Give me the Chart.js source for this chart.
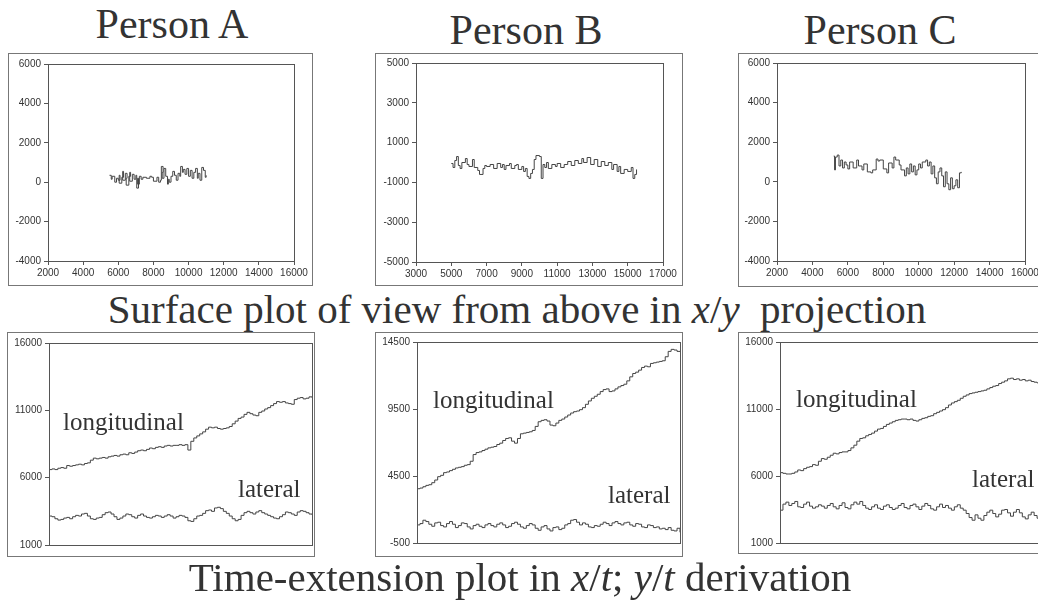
<!DOCTYPE html>
<html>
<head>
<meta charset="utf-8">
<script src="https://cdn.jsdelivr.net/npm/chart.js@4"></script>
<style>
body { margin: 0; width: 1038px; height: 600px; overflow: hidden; background: #fff; position: relative; font-family: "Liberation Serif", serif; color: #333; }
.title { position: absolute; font-size: 42px; line-height: 1; white-space: nowrap; transform: translateX(-50%); }
.caption { position: absolute; font-size: 41px; line-height: 1; white-space: nowrap; transform: translateX(-50%); }
.box { position: absolute; border: 1px solid #777; box-sizing: border-box; background: #fff; }
.box div { position: absolute; left: 0; top: 0; right: 0; bottom: 0; }
.lbl { position: absolute; font-size: 25px; line-height: 1; white-space: nowrap; color: #333; }
</style>
</head>
<body>
<div class="title" style="left:172px; top:3px">Person A</div>
<div class="title" style="left:526px; top:9px">Person B</div>
<div class="title" style="left:880px; top:9px">Person C</div>

<div class="box" style="left:8px; top:53px; width:305px; height:233px"><div><canvas id="xyA"></canvas></div></div>
<div class="box" style="left:375px; top:53px; width:308px; height:233px"><div><canvas id="xyB"></canvas></div></div>
<div class="box" style="left:738px; top:53px; width:310px; height:234px"><div><canvas id="xyC"></canvas></div></div>

<div class="caption" style="left:517px; top:289px">Surface plot of view from above in <i>x</i>/<i>y</i>&nbsp; projection</div>

<div class="box" style="left:7px; top:332px; width:308px; height:225px"><div><canvas id="tA"></canvas></div></div>
<div class="box" style="left:375px; top:332px; width:308px; height:225px"><div><canvas id="tB"></canvas></div></div>
<div class="box" style="left:738px; top:332px; width:310px; height:222px"><div><canvas id="tC"></canvas></div></div>

<div class="lbl" style="left:63px; top:409px">longitudinal</div>
<div class="lbl" style="left:238px; top:476px">lateral</div>
<div class="lbl" style="left:433px; top:387px">longitudinal</div>
<div class="lbl" style="left:608px; top:482px">lateral</div>
<div class="lbl" style="left:796px; top:386px">longitudinal</div>
<div class="lbl" style="left:972px; top:466px">lateral</div>

<div class="caption" style="left:520px; top:557px">Time-extension plot in <i>x</i>/<i>t</i>; <i>y</i>/<i>t</i> derivation</div>

<script>
// x/y paths seen from above
const pathAX = [5500,5600,5650,5800,5900,6000,6100,6050,6200,6300,6250,6400,6500,6450,6600,6700,6650,6800,6900,7000,7050,7150,7100,7200,7300,7400,7600,7800,7900,8000,8200,8300,8400,8450,8550,8500,8600,8700,8800,8850,8900,9000,9100,9200,9300,9400,9500,9550,9650,9700,9800,9900,10000,10100,10200,10300,10400,10500,10550,10650,10750,10850,10950,11000];
const pathAY = [350,150,300,0,200,100,350,-50,250,550,100,450,200,-150,300,500,50,400,150,350,-300,200,-100,300,150,250,200,300,250,50,250,0,100,800,500,200,700,300,-100,150,0,300,550,350,100,450,300,800,500,650,400,700,300,600,200,500,700,200,450,100,750,600,250,350];

const pathBX = [5000,5100,5200,5300,5400,5500,5600,5800,5900,6000,6200,6300,6500,6600,6800,6900,7000,7200,7400,7600,7800,7900,8000,8100,8300,8400,8600,8700,8800,9000,9100,9200,9300,9400,9500,9600,9700,9800,10000,10100,10200,10300,10400,10500,10700,10900,11000,11200,11400,11600,11800,12000,12200,12400,12500,12700,12900,13100,13300,13500,13700,13900,14100,14200,14400,14500,14600,14800,15000,15200,15300,15400,15500];
const pathBY = [-50,-250,100,300,-150,-300,0,200,-100,-200,150,-250,-400,-600,-300,-150,-200,-100,-300,-50,-250,-100,-350,-150,-50,-300,-150,-100,-350,-200,-450,-300,-700,-800,-550,-350,150,350,300,-800,-100,-250,0,-300,-100,-200,-50,-250,-100,50,-150,100,-50,200,0,250,-100,150,-200,50,-150,0,-350,-100,-450,-200,-550,-350,-450,-250,-800,-600,-350];

const pathCX = [5200,5250,5300,5400,5500,5600,5700,5800,5900,6000,6100,6300,6500,6600,6800,6900,7100,7300,7400,7600,7700,7800,8000,8200,8300,8500,8600,8700,8900,9000,9200,9300,9400,9500,9600,9700,9800,9900,10000,10100,10200,10400,10500,10600,10700,10800,10900,11000,11100,11200,11300,11400,11500,11600,11700,11800,11900,12000,12100,12200,12300,12400];
const pathCY = [1300,600,1250,1350,800,1100,700,1000,850,650,1000,700,1100,800,600,900,500,450,600,1150,1050,1100,650,450,950,700,1250,1100,850,600,300,700,400,900,500,800,350,600,900,700,1000,1100,800,1000,400,800,200,-100,500,700,300,-250,500,-100,-400,200,-350,-200,100,-300,450,500];

// time series, longitudinal and lateral
const longA = [6600,6650,6600,6700,6750,6700,6900,6850,6900,6950,7000,6950,7050,7100,7300,7450,7400,7450,7500,7450,7550,7600,7650,7600,7700,7750,7700,7850,7800,7900,8000,8050,8000,8100,8200,8150,8250,8300,8250,8350,8400,8350,8400,8400,8450,8400,8450,8050,8700,8950,9100,9250,9400,9600,9750,9700,9750,9650,9600,9650,9700,9800,10000,10200,10400,10500,10700,10850,10750,10650,10600,10850,10950,11100,11200,11350,11500,11650,11600,11650,11550,11500,11450,11800,11900,11950,11850,11900,12000,11950];
const latA = [3150,3100,2950,2850,2900,3000,3050,2950,3100,3200,3150,3300,3350,3150,2950,2900,3000,3050,3250,3400,3450,3300,3100,2900,3000,3150,3300,3250,3100,3000,3200,3300,3150,3050,3000,3100,3200,3150,3050,3150,3250,3150,3000,3100,3200,3150,3050,2800,2750,2950,3150,3200,3350,3550,3600,3500,3750,3800,3700,3500,3350,3150,2950,2800,2900,3200,3400,3500,3400,3300,3450,3550,3400,3300,3200,3100,3000,2950,3100,3250,3450,3400,3300,3200,3450,3550,3500,3400,3300,3250];

const longB = [3550,3600,3700,3800,3850,4000,4200,4450,4550,4750,4800,4900,5000,5100,5150,5200,5300,5350,5600,6100,6250,6300,6400,6500,6600,6650,6700,6850,6950,7150,7300,7350,7100,6950,7300,7650,7700,7750,7800,7900,8200,8550,8650,8700,8600,8300,8250,8450,8650,8750,8900,9050,9200,9300,9350,9450,9600,9850,10100,10300,10450,10600,10800,10950,11000,10800,10850,11000,11150,11250,11350,11600,11900,12150,12250,12400,12600,12700,12650,12900,12950,13000,13050,13100,13400,13800,13950,13900,13800,13750];
const latB = [850,950,1200,1100,900,750,1000,1050,800,700,950,1100,900,650,800,1000,950,700,550,800,900,750,650,850,950,800,700,900,1000,850,650,750,950,1050,900,700,600,800,950,850,600,450,700,800,550,400,650,700,500,600,850,950,1200,1250,1050,850,1000,900,700,650,800,750,900,1050,950,800,1000,1100,950,850,1000,1050,850,750,950,900,700,650,850,800,650,700,550,600,500,650,450,400,600,300];

const longC = [6250,6200,6150,6150,6200,6300,6450,6400,6550,6650,6700,6850,6800,7100,7300,7250,7400,7550,7700,7650,7750,7800,7800,7900,8100,8300,8600,8800,8850,9000,9100,9200,9350,9500,9550,9700,9850,9950,10050,10150,10200,10250,10250,10200,10250,10150,10100,10200,10300,10350,10450,10500,10650,10750,10850,10950,11100,11300,11450,11550,11650,11800,11950,12050,12150,12200,12250,12300,12350,12400,12500,12600,12700,12750,12900,13000,13100,13250,13300,13200,13250,13150,13200,13100,13150,13050,13000,12950,13000,12950];
const latC = [3450,3900,4050,3800,3950,4100,3700,3650,3900,4050,3750,3600,3700,3850,3750,3600,3800,3950,3700,3550,3800,4000,3650,3550,3850,4050,3900,4100,3800,3600,3500,3700,3850,3600,3500,3750,3850,3650,3500,3600,3800,3950,3650,3550,3800,3900,3700,3500,3750,3950,3800,3550,3450,3700,3900,3650,3800,3600,3450,3700,3850,3600,3450,3200,2900,2700,3100,2850,2700,3050,3300,3450,3200,2950,3150,3450,3500,3250,3000,3300,3500,3250,2950,2800,3100,3300,3050,2850,2900,3100];

const plotBox = {
    id: 'plotBox',
    afterDraw(chart) {
        const ctx = chart.ctx, a = chart.chartArea;
        ctx.save();
        ctx.strokeStyle = '#555';
        ctx.lineWidth = 1;
        ctx.strokeRect(Math.round(a.left) + 0.5, Math.round(a.top) + 0.5, Math.round(a.right - a.left), Math.round(a.bottom - a.top));
        ctx.restore();
    }
};

const tickFont = {family: '"Liberation Sans", Arial, sans-serif', size: 10};

function yAxis(min, max, step, w) {
    return {
        min: min, max: max,
        ticks: {stepSize: step, color: '#333', font: tickFont, padding: 3, callback: v => String(v)},
        grid: {drawOnChartArea: false, tickLength: 4, color: '#555'},
        border: {color: '#555'},
        afterFit(s) { s.width = w; }
    };
}

function xyChart(id, xs, ys, xMin, xMax, yMin, yMax, pad) {
    new Chart(document.getElementById(id), {
        type: 'scatter',
        data: {datasets: [{
            data: xs.map((x, i) => ({x: x, y: ys[i]})),
            showLine: true, stepped: true, borderColor: '#444', borderWidth: 1, pointRadius: 0
        }]},
        options: {
            animation: false, responsive: true, maintainAspectRatio: false,
            layout: {padding: {left: 0, right: pad.r, top: pad.t, bottom: 0}},
            plugins: {legend: {display: false}, tooltip: {enabled: false}},
            scales: {
                x: {
                    type: 'linear', min: xMin, max: xMax,
                    ticks: {stepSize: 2000, color: '#333', font: tickFont, padding: 2, maxRotation: 0, autoSkip: false, callback: v => String(v)},
                    grid: {drawOnChartArea: false, tickLength: 4, color: '#555'},
                    border: {color: '#555'},
                    afterFit(s) { s.height = pad.b; }
                },
                y: yAxis(yMin, yMax, 2000, pad.l)
            }
        },
        plugins: [plotBox]
    });
}

function timeChart(id, lon, lat, yMin, yMax, pad) {
    new Chart(document.getElementById(id), {
        type: 'line',
        data: {
            labels: lon.map((v, i) => i),
            datasets: [
                {data: lon, stepped: true, borderColor: '#444', borderWidth: 1, pointRadius: 0},
                {data: lat, stepped: true, borderColor: '#444', borderWidth: 1, pointRadius: 0}
            ]
        },
        options: {
            animation: false, responsive: true, maintainAspectRatio: false,
            layout: {padding: {left: 0, right: pad.r, top: pad.t, bottom: 0}},
            plugins: {legend: {display: false}, tooltip: {enabled: false}},
            scales: {
                x: {
                    offset: false,
                    ticks: {display: false},
                    grid: {display: false},
                    border: {color: '#555'},
                    afterFit(s) { s.height = pad.b; }
                },
                y: yAxis(yMin, yMax, 5000, pad.l)
            }
        },
        plugins: [plotBox]
    });
}

xyChart('xyA', pathAX, pathAY, 2000, 16000, -4000, 6000, {l: 39, r: 18, t: 10, b: 24});
xyChart('xyB', pathBX, pathBY, 3000, 17000, -5000, 5000, {l: 40, r: 19, t: 9, b: 23});
xyChart('xyC', pathCX, pathCY, 2000, 16000, -4000, 6000, {l: 38, r: 22, t: 9, b: 25});

timeChart('tA', longA, latA, 1000, 16000, {l: 41, r: 2, t: 10, b: 11});
timeChart('tB', longB, latB, -500, 14500, {l: 41, r: 2, t: 9, b: 13});
timeChart('tC', longC, latC, 1000, 16000, {l: 41, r: 4, t: 9, b: 10});
</script>
</body>
</html>
